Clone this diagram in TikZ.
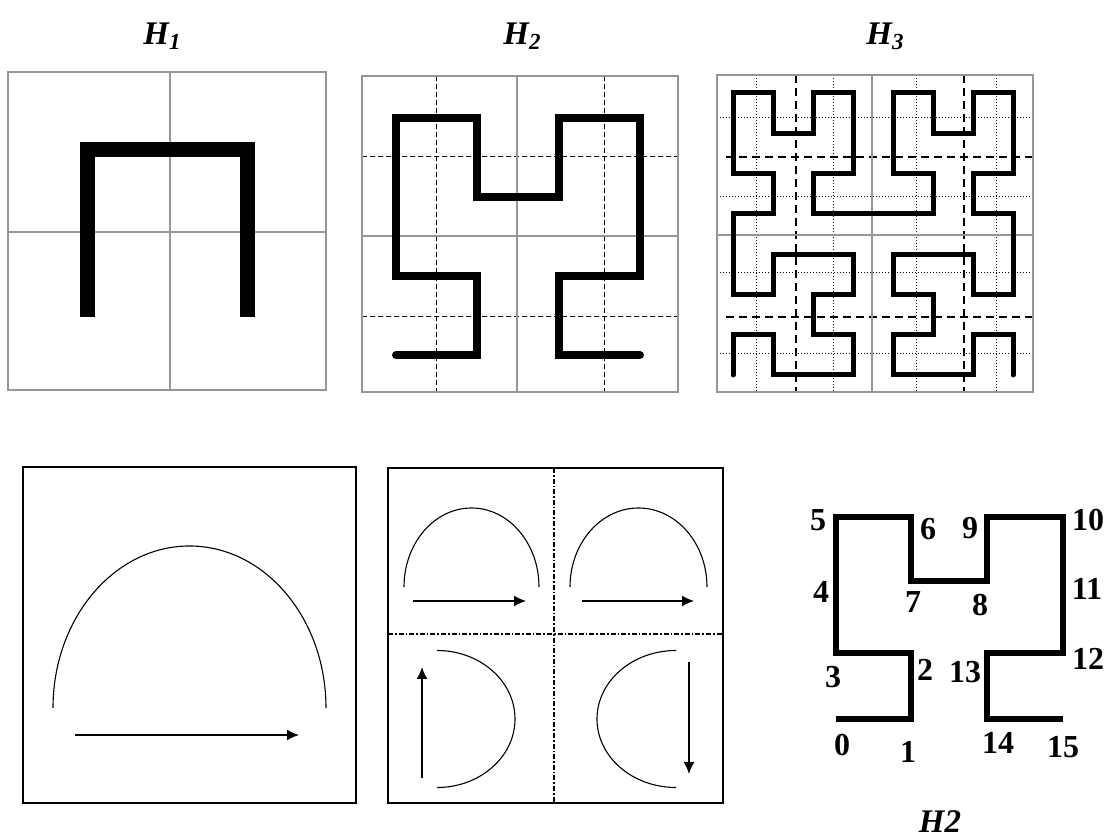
\documentclass[tikz,border=0pt]{standalone}
\usepackage{fontspec}
\setmainfont{Liberation Serif}
\usetikzlibrary{arrows.meta}
\definecolor{gridgray}{RGB}{150,150,150}
\begin{document}
\begin{tikzpicture}[x=0.5pt,y=-0.5pt,
  gridline/.style={draw=gridgray,line width=1.2pt},
  dashline/.style={dash pattern=on 2.5pt off 1.5pt,line width=0.5pt},
  dashmid/.style={dash pattern=on 4pt off 2.5pt,line width=0.7pt},
  dotline/.style={dash pattern=on 0.5pt off 1pt,line width=0.5pt},
  dashdotline/.style={dash pattern=on 2.5pt off 1pt on 0.8pt off 1pt,line width=0.6pt},
  hcurve/.style={line join=miter,line cap=butt},
  thinarc/.style={line width=0.55pt},
  arr/.style={line width=0.75pt,-{Latex[length=6pt,width=5.5pt]}},
  boxline/.style={line width=1pt},
  num/.style={font=\fontsize{16}{16}\selectfont\bfseries,inner sep=0pt},
  ttl/.style={font=\fontsize{16.5}{16.5}\selectfont\bfseries\itshape,inner sep=0pt,anchor=base west}]
\useasboundingbox (0,0) rectangle (1110,838);

% ---------- titles
\node[ttl] (t1) at (143,45) {H\raisebox{-0.3ex}{\fontsize{11.5}{11.5}\selectfont 1}};
\node[ttl] (t2) at (503,45) {H\raisebox{-0.3ex}{\fontsize{11.5}{11.5}\selectfont 2}};
\node[ttl] (t3) at (866,45) {H\raisebox{-0.3ex}{\fontsize{11.5}{11.5}\selectfont 3}};

% ---------- H1
\draw[gridline] (8,72) rectangle (326,390);
\draw[gridline] (170,72) -- (170,390) (8,232) -- (326,232);
\draw[hcurve,line width=7.5pt] (87,317) -- (87,150) -- (247,150) -- (247,317);

% ---------- H2
\draw[dashline] (436,76) -- (436,392) (604,76) -- (604,392)
                (362,157) -- (678,157) (362,317) -- (678,317);
\draw[gridline] (362,76) rectangle (678,392);
\draw[gridline] (517,76) -- (517,392) (362,236) -- (678,236);
\begin{scope}[shift={(396,355)},x=40.65pt,y=39.5pt]
  \draw[line join=miter,line cap=round,line width=4pt]
    (0,0) -- (1,0) -- (1,1) -- (0,1) -- (0,3) -- (1,3) -- (1,2) -- (2,2)
    -- (2,3) -- (3,3) -- (3,1) -- (2,1) -- (2,0) -- (3,0);
\end{scope}

% ---------- H3
\draw[dotline] (756,75) -- (756,392) (833,75) -- (833,392)
               (916,75) -- (916,392) (996,75) -- (996,392)
               (717,118) -- (1033,118) (717,197) -- (1033,197)
               (717,273) -- (1033,273) (717,354) -- (1033,354);
\draw[dashmid] (796,75) -- (796,392) (964,75) -- (964,392)
               (726,157) -- (1037,157) (726,317) -- (1037,317);
\draw[gridline] (717,75) rectangle (1033,392);
\draw[gridline] (872,75) -- (872,392) (717,235) -- (1033,235);
\begin{scope}[shift={(733,375)},x=20pt,y=20.15pt]
  \draw[line join=miter,line cap=round,line width=2.5pt]
    (0,0) -- (0,1) -- (1,1) -- (1,0) -- (3,0) -- (3,1) -- (2,1) -- (2,2)
    -- (3,2) -- (3,3) -- (1,3) -- (1,2) -- (0,2) -- (0,4) -- (1,4) -- (1,5)
    -- (0,5) -- (0,7) -- (1,7) -- (1,6) -- (2,6) -- (2,7) -- (3,7) -- (3,5)
    -- (2,5) -- (2,4) -- (5,4) -- (5,5) -- (4,5) -- (4,7) -- (5,7) -- (5,6)
    -- (6,6) -- (6,7) -- (7,7) -- (7,5) -- (6,5) -- (6,4) -- (7,4) -- (7,2)
    -- (6,2) -- (6,3) -- (4,3) -- (4,2) -- (5,2) -- (5,1) -- (4,1) -- (4,0)
    -- (6,0) -- (6,1) -- (7,1) -- (7,0);
\end{scope}

% ---------- bottom left box
\draw[boxline] (23,467) rectangle (356,803);
\draw[thinarc] (53,708) arc[start angle=180,end angle=360,x radius=136.5,y radius=162];
\coordinate (a0) at (75,735);
\coordinate (a1) at (299,735);
\draw[arr] (a0) -- (a1);

% ---------- bottom middle box
\draw[dashdotline] (554,468) -- (554,803) (388,634) -- (723,634);
\draw[boxline] (388,468) rectangle (723,803);
\draw[thinarc] (404,587) arc[start angle=180,end angle=360,x radius=67.5,y radius=79];
\draw[thinarc] (570,587) arc[start angle=180,end angle=360,x radius=68.5,y radius=79];
\draw[thinarc] (437,650.5) arc[start angle=270,end angle=450,x radius=78,y radius=68.5];
\draw[thinarc] (676,650.5) arc[start angle=270,end angle=90,x radius=79,y radius=68.5];
\coordinate (b0) at (413,601); \coordinate (b1) at (526,601);
\coordinate (c0) at (582,601); \coordinate (c1) at (694,601);
\coordinate (d0) at (422,778); \coordinate (d1) at (422,667);
\coordinate (e0) at (689,662); \coordinate (e1) at (689,774);
\draw[arr] (b0) -- (b1);
\draw[arr] (c0) -- (c1);
\draw[arr] (d0) -- (d1);
\draw[arr] (e0) -- (e1);

% ---------- labelled H2
\draw[line join=miter,line cap=butt,line width=3pt]
  (836,719) -- (911,719) -- (911,653) -- (836,653) -- (836,517) -- (911,517)
  -- (911,581) -- (987,581) -- (987,517) -- (1063,517) -- (1063,653)
  -- (987,653) -- (987,719) -- (1063,719);
\node[num] (n0) at (842,745) {0};
\node[num] (n1) at (908,752) {1};
\node[num] (n2) at (925,670) {2};
\node[num] (n3) at (833,677) {3};
\node[num] (n4) at (821,592) {4};
\node[num] (n5) at (818,520) {5};
\node[num] (n6) at (928,529) {6};
\node[num] (n7) at (913,602) {7};
\node[num] (n8) at (980,605) {8};
\node[num] (n9) at (970,528) {9};
\node[num] (n10) at (1088,520) {10};
\node[num] (n11) at (1087,589) {11};
\node[num] (n12) at (1088,659) {12};
\node[num] (n13) at (965,672) {13};
\node[num] (n14) at (998,743) {14};
\node[num] (n15) at (1063,747) {15};
\node[ttl,anchor=center] (h2) at (940,822) {H2};
\end{tikzpicture}
\end{document}
